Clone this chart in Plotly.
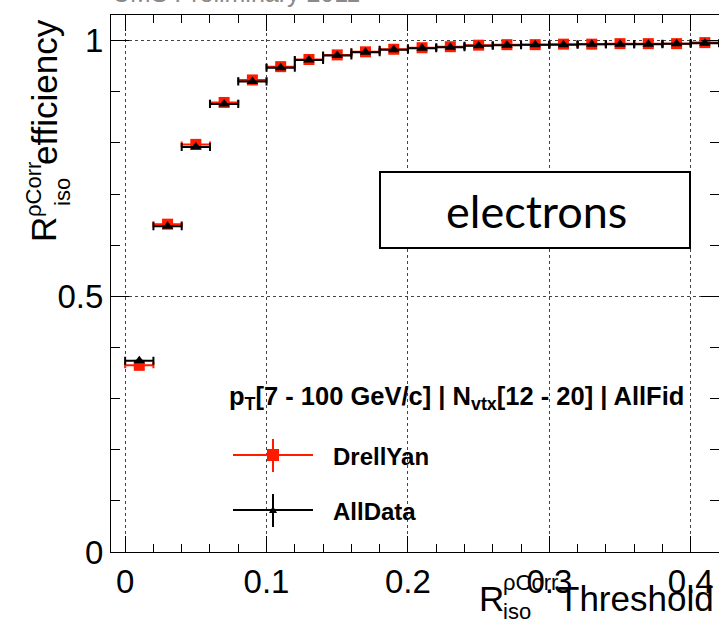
import plotly.graph_objects as go

# ---- data ----
thresholds = [0.01, 0.03, 0.05, 0.07, 0.09, 0.11, 0.13, 0.15, 0.17, 0.19, 0.21,
              0.23, 0.25, 0.27, 0.29, 0.31, 0.33, 0.35, 0.37, 0.39, 0.41]
bin_half_width = [0.01] * len(thresholds)
drellyan = [0.365, 0.641, 0.797, 0.879, 0.923, 0.949, 0.963, 0.972, 0.978, 0.983, 0.986,
            0.988, 0.991, 0.992, 0.992, 0.993, 0.993, 0.994, 0.994, 0.994, 0.996]
drellyan_err = [0.004, 0.004, 0.003, 0.003, 0.002, 0.002, 0.002, 0.002, 0.001, 0.001, 0.001,
                0.001, 0.001, 0.001, 0.001, 0.001, 0.001, 0.001, 0.001, 0.001, 0.001]
alldata = [0.374, 0.637, 0.792, 0.876, 0.920, 0.947, 0.962, 0.971, 0.977, 0.982, 0.985,
           0.987, 0.990, 0.991, 0.992, 0.992, 0.993, 0.993, 0.993, 0.994, 0.995]
alldata_err = [0.003, 0.003, 0.003, 0.002, 0.002, 0.002, 0.001, 0.001, 0.001, 0.001, 0.001,
               0.001, 0.001, 0.001, 0.001, 0.001, 0.001, 0.001, 0.001, 0.001, 0.001]
series_names = ["DrellYan", "AllData"]

W, H = 719, 619
L, R, T, B = 111, 0, 15, 67
PW, PH = W - L - R, H - T - B
FONT = "Liberation Sans, Arial, Helvetica, sans-serif"
RED = "#ff1a00"


def px(x):
    return (x - L) / PW


def py(y):
    return (H - B - y) / PH


fig = go.Figure()

fig.add_trace(go.Scatter(
    x=thresholds, y=drellyan, mode="markers", name=series_names[0],
    marker=dict(symbol="square", size=11, color=RED),
    error_x=dict(type="data", array=bin_half_width, color=RED, thickness=2, width=3),
    error_y=dict(type="data", array=drellyan_err, color=RED, thickness=2, width=0),
    showlegend=False,
))
fig.add_trace(go.Scatter(
    x=thresholds, y=alldata, mode="markers", name=series_names[1],
    marker=dict(symbol="triangle-up", size=10, color="black"),
    error_x=dict(type="data", array=bin_half_width, color="black", thickness=2, width=4),
    error_y=dict(type="data", array=alldata_err, color="black", thickness=2, width=0),
    showlegend=False,
))

shapes = []
ann = []

# electrons box
shapes.append(dict(type="rect", xref="paper", yref="paper", x0=px(380), x1=px(690),
                   y0=py(172), y1=py(248), line=dict(color="black", width=2),
                   fillcolor="white", layer="above"))
ann.append(dict(text="electrons", x=px(536), y=py(211),
                xanchor="center", yanchor="middle",
                font=dict(family="Lato, Noto Sans, sans-serif", size=45, color="black")))

# legend
ann.append(dict(text="<b>p<sub>T</sub>[7 - 100 GeV/c] | N<sub>vtx</sub>[12 - 20] | AllFid</b>",
                x=px(227), y=py(398), xanchor="left", yanchor="middle",
                font=dict(family=FONT, size=25.5, color="black")))
for name, col, yc, sym in [(series_names[0], RED, 455, "sq"), (series_names[1], "black", 510, "tri")]:
    shapes.append(dict(type="line", xref="paper", yref="paper", x0=px(233), x1=px(313),
                       y0=py(yc), y1=py(yc), line=dict(color=col, width=2)))
    shapes.append(dict(type="line", xref="paper", yref="paper", x0=px(273), x1=px(273),
                       y0=py(yc - 16), y1=py(yc + 17), line=dict(color=col, width=2)))
    if sym == "sq":
        shapes.append(dict(type="rect", xref="paper", yref="paper", x0=px(267), x1=px(279),
                           y0=py(yc - 6), y1=py(yc + 6), line=dict(width=0), fillcolor=col))
    else:
        shapes.append(dict(type="path", xref="paper", yref="paper",
                           path=f"M {px(269)} {py(yc + 3)} L {px(277)} {py(yc + 3)} L {px(273)} {py(yc - 4)} Z",
                           line=dict(width=0), fillcolor=col))
    ann.append(dict(text=f"<b>{name}</b>", x=px(331), y=py(yc + 1),
                    xanchor="left", yanchor="middle",
                    font=dict(family=FONT, size=24, color="black")))

# x-axis title
ann += [
    dict(text="Threshold", x=px(716), y=py(598), xanchor="right", yanchor="middle",
         font=dict(family=FONT, size=35, color="black")),
    dict(text="R", x=px(477), y=py(598), xanchor="left", yanchor="middle",
         font=dict(family=FONT, size=35, color="black")),
    dict(text="ρCorr", x=px(501), y=py(582), xanchor="left", yanchor="middle",
         font=dict(family=FONT, size=22, color="black")),
    dict(text="iso", x=px(501), y=py(611), xanchor="left", yanchor="middle",
         font=dict(family=FONT, size=22, color="black")),
]
# y-axis title (rotated)
ann += [
    dict(text="efficiency", x=px(44), y=py(92), xanchor="center", yanchor="middle", textangle=-90,
         font=dict(family=FONT, size=35, color="black")),
    dict(text="R", x=px(44), y=py(230), xanchor="center", yanchor="middle", textangle=-90,
         font=dict(family=FONT, size=35, color="black")),
    dict(text="ρCorr", x=px(33), y=py(190), xanchor="center", yanchor="middle", textangle=-90,
         font=dict(family=FONT, size=22, color="black")),
    dict(text="iso", x=px(62), y=py(192), xanchor="center", yanchor="middle", textangle=-90,
         font=dict(family=FONT, size=22, color="black")),
]
# partially clipped header
ann.append(dict(text="CMS Preliminary 2011", x=px(110), y=1, xanchor="left", yanchor="bottom",
                yshift=6, font=dict(family=FONT, size=25, color="#8a8a8a")))

for a in ann:
    a.setdefault("xref", "paper")
    a.setdefault("yref", "paper")
    a.setdefault("showarrow", False)

fig.update_layout(
    width=W, height=H, margin=dict(l=L, r=R, t=T, b=B, pad=0),
    paper_bgcolor="white", plot_bgcolor="white",
    shapes=shapes, annotations=ann,
    font=dict(family=FONT, size=33, color="black"),
    showlegend=False,
)
fig.update_xaxes(
    range=[-0.01, 0.42], tick0=0, dtick=0.1, showline=True, linecolor="black", linewidth=1,
    mirror="ticks", ticks="inside", ticklen=16, tickwidth=1, tickcolor="black",
    showgrid=True, gridcolor="#444", griddash="dot", gridwidth=1, zeroline=False,
    tickfont=dict(family=FONT, size=33, color="black"),
    minor=dict(dtick=0.02, tick0=0, ticks="inside", ticklen=8, tickcolor="black", showgrid=False),
)
fig.update_yaxes(
    range=[0, 1.05], tick0=0, dtick=0.5, showline=True, linecolor="black", linewidth=1,
    mirror="ticks", ticks="inside", ticklen=18, tickwidth=1, tickcolor="black",
    showgrid=True, gridcolor="#444", griddash="dot", gridwidth=1, zeroline=False,
    tickfont=dict(family=FONT, size=33, color="black"),
    minor=dict(dtick=0.1, tick0=0, ticks="inside", ticklen=9, tickcolor="black", showgrid=False),
)

fig.write_html("out.html")
